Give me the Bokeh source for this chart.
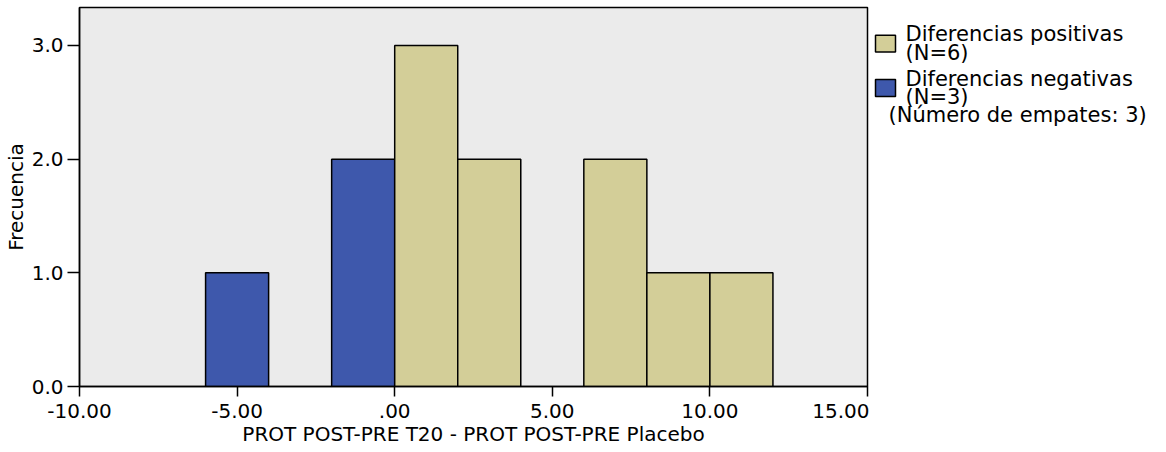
from bokeh.plotting import figure
from bokeh.layouts import row
from bokeh.models import FixedTicker, Range1d
from bokeh.embed import file_html
from bokeh.resources import INLINE
from bokeh.core.properties import value

# ---- data ----
neg_left = [-6.0, -2.0]
neg_right = [-4.0, 0.0]
neg_counts = [1, 2]

pos_left = [0.0, 2.0, 6.0, 8.0, 10.0]
pos_right = [2.0, 4.0, 8.0, 10.0, 12.0]
pos_counts = [3, 2, 2, 1, 1]

x_ticks = [-10, -5, 0, 5, 10, 15]
x_tick_labels = ["-10.00", "-5.00", ".00", "5.00", "10.00", "15.00"]
y_ticks = [0, 1, 2, 3]
y_tick_labels = ["0.0", "1.0", "2.0", "3.0"]

legend_names = ["Diferencias positivas", "Diferencias negativas"]
legend_counts = ["(N=6)", "(N=3)"]
ties_text = "(Número de empates: 3)"
x_title = "PROT POST-PRE T20 - PROT POST-PRE Placebo"
y_title = "Frecuencia"

TAN = "#D3CE98"
BLUE = "#3E58AC"
legend_colors = [TAN, BLUE]
FONT = "DejaVu Sans"

W, H = 1166, 452
FRAME_L, FRAME_R, FRAME_T, FRAME_B = 79, 867, 7, 386
MAIN_W = FRAME_R + 2
PX_PER_UNIT = 113.67

p = figure(width=MAIN_W, height=H, output_backend="svg", toolbar_location=None,
           x_range=Range1d(-10, 15),
           y_range=Range1d(0, (FRAME_B - FRAME_T) / PX_PER_UNIT),
           min_border_left=FRAME_L, min_border_right=MAIN_W - FRAME_R,
           min_border_top=FRAME_T, min_border_bottom=H - FRAME_B)
p.background_fill_color = "#EBEBEB"
p.border_fill_color = "white"
p.outline_line_color = "black"
p.outline_line_width = 1.5
p.xgrid.visible = False
p.ygrid.visible = False

p.quad(left=neg_left, right=neg_right, bottom=0, top=neg_counts,
       fill_color=BLUE, line_color="black", line_width=1.5)
p.quad(left=pos_left, right=pos_right, bottom=0, top=pos_counts,
       fill_color=TAN, line_color="black", line_width=1.5)

for ax in (p.xaxis[0], p.yaxis[0]):
    ax.axis_line_color = "black"
    ax.axis_line_width = 1.5
    ax.major_tick_line_color = "black"
    ax.major_tick_line_width = 1.5
    ax.major_tick_in = 0
    ax.minor_tick_line_color = None
    ax.major_label_text_font = FONT
    ax.major_label_text_font_size = "20px"
    ax.major_label_text_color = "black"
    ax.axis_label_text_font = FONT
    ax.axis_label_text_font_style = "normal"
    ax.axis_label_text_color = "black"

p.xaxis[0].ticker = FixedTicker(ticks=x_ticks)
p.xaxis[0].major_label_overrides = dict(zip(x_ticks, x_tick_labels))
p.xaxis[0].major_tick_out = 10
p.xaxis[0].major_label_standoff = 7
p.xaxis[0].axis_label = x_title
p.xaxis[0].axis_label_text_font_size = "20px"
p.xaxis[0].axis_label_standoff = 1

p.yaxis[0].ticker = FixedTicker(ticks=y_ticks)
p.yaxis[0].major_label_overrides = dict(zip(y_ticks, y_tick_labels))
p.yaxis[0].major_tick_out = 12
p.yaxis[0].major_label_standoff = 4
p.yaxis[0].axis_label = y_title
p.yaxis[0].axis_label_text_font_size = "20px"
p.yaxis[0].axis_label_standoff = 1

# ---- legend panel ----
LW = W - MAIN_W
q = figure(width=LW, height=H, output_backend="svg", toolbar_location=None,
           x_range=Range1d(0, LW), y_range=Range1d(H, 0),
           min_border=0, outline_line_color=None)
q.axis.visible = False
q.grid.visible = False
q.background_fill_color = "white"
q.border_fill_color = "white"

sq_x0, sq_size = 6, 20
item_top = [33, 86]
q.quad(left=[sq_x0] * 2, right=[sq_x0 + sq_size] * 2,
       top=item_top, bottom=[t + sq_size for t in item_top],
       fill_color=legend_colors, line_color="black", line_width=1.5)

tx = sq_x0 + sq_size + 10
line1_y = [t - 1 for t in item_top]
line2_y = [t + 21 for t in item_top]
q.text(x=[tx] * 2, y=line1_y, text=legend_names, text_font=value(FONT),
       text_font_size="21px", text_baseline="middle", text_color="black")
q.text(x=[tx] * 2, y=line2_y, text=legend_counts, text_font=value(FONT),
       text_font_size="21px", text_baseline="middle", text_color="black")
q.text(x=[sq_x0 + 13], y=[item_top[1] + 42], text=[ties_text],
       text_font=value(FONT), text_font_size="21px",
       text_baseline="middle", text_color="black")

layout = row(p, q, spacing=0)
open("out.html", "w").write(file_html(layout, INLINE))
